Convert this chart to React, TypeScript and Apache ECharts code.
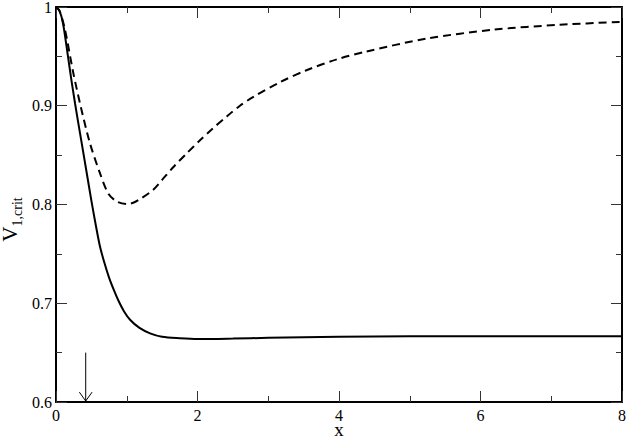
import React, { useEffect, useRef } from "react";
import * as echarts from "echarts";

const solidCurve: [number, number][] = [
  [0, 1], [0.05, 0.996], [0.1, 0.983], [0.165, 0.952], [0.22, 0.925], [0.27, 0.902],
  [0.34, 0.872], [0.42, 0.838], [0.5, 0.804], [0.56, 0.78], [0.62, 0.758],
  [0.68, 0.742], [0.75, 0.726], [0.82, 0.713], [0.88, 0.703], [0.96, 0.692],
  [1.05, 0.683], [1.18, 0.675], [1.33, 0.6695], [1.5, 0.666], [1.75, 0.6645],
  [2.0, 0.6637], [2.5, 0.6642], [3, 0.665], [4, 0.666], [5, 0.6665], [6, 0.6666], [8, 0.6667],
];

const dashedCurve: [number, number][] = [
  [0, 1], [0.05, 0.996], [0.127, 0.977], [0.245, 0.933], [0.36, 0.896], [0.48, 0.862],
  [0.62, 0.832], [0.74, 0.811], [0.86, 0.803], [1.01, 0.8005], [1.1, 0.802],
  [1.2, 0.806], [1.375, 0.815], [1.5, 0.825], [1.66, 0.838], [1.85, 0.852],
  [2.035, 0.865], [2.2, 0.876], [2.41, 0.889], [2.6, 0.9], [2.79, 0.909],
  [3.17, 0.924], [3.54, 0.936], [3.97, 0.947], [4.39, 0.955], [5.24, 0.968],
  [6.18, 0.977], [7.12, 0.982], [8, 0.985],
];

const arrowShaft: [number, number][] = [[0.42, 0.65], [0.42, 0.601]];
const arrowHead: [number, number][] = [[0.33, 0.61], [0.42, 0.601], [0.51, 0.61]];

const xTicks = [0, 2, 4, 6, 8];
const yTicks = [0.6, 0.7, 0.8, 0.9, 1];

const FONT = "Liberation Serif";

export default function App() {
  const ref = useRef<HTMLDivElement>(null);
  useEffect(() => {
    if (!ref.current) return;
    const chart = echarts.init(ref.current, undefined, { renderer: "svg" });
    const axisCommon = {
      type: "value" as const,
      axisLine: { show: true, onZero: false, lineStyle: { color: "#000", width: 2 } },
      axisTick: { show: true, inside: true, length: 11, lineStyle: { color: "#333", width: 1 } },
      minorTick: { show: true, splitNumber: 2, length: 6, lineStyle: { color: "#333", width: 1 } },
      splitLine: { show: false },
      minorSplitLine: { show: false },
    };
    chart.setOption({
      animation: false,
      grid: { left: 56, right: 4, top: 7, bottom: 34, containLabel: false, outerBoundsMode: "none" },
      xAxis: [
        {
          ...axisCommon,
          position: "bottom",
          min: xTicks[0],
          max: xTicks[xTicks.length - 1],
          interval: 2,
          axisLabel: { color: "#000", fontFamily: FONT, fontSize: 16, margin: 5 },
          name: "x",
          nameLocation: "middle",
          nameGap: 21,
          nameMoveOverlap: false,
          nameTextStyle: { color: "#000", fontFamily: FONT, fontSize: 19, lineHeight: 12 },
        },
        {
          ...axisCommon,
          position: "top",
          min: xTicks[0],
          max: xTicks[xTicks.length - 1],
          interval: 2,
          axisLabel: { show: false },
        },
      ],
      yAxis: [
        {
          ...axisCommon,
          position: "left",
          min: yTicks[0],
          max: yTicks[yTicks.length - 1],
          interval: 0.1,
          axisLabel: { color: "#000", fontFamily: FONT, fontSize: 16, margin: 4 },
          name: "{v|V}{s|1,crit}",
          nameLocation: "middle",
          nameRotate: 90,
          nameGap: 36,
          nameMoveOverlap: false,
          nameTextStyle: {
            color: "#000",
            fontFamily: FONT,
            padding: [0, 30, 0, 0],
            rich: {
              v: { fontSize: 21, fontFamily: FONT, color: "#000", verticalAlign: "bottom", lineHeight: 24 },
              s: { fontSize: 14, fontFamily: FONT, color: "#000", verticalAlign: "bottom", lineHeight: 12, padding: [0, 0, -4, 0] },
            },
          },
        },
        {
          ...axisCommon,
          position: "right",
          min: yTicks[0],
          max: yTicks[yTicks.length - 1],
          interval: 0.1,
          axisLabel: { show: false },
        },
      ],
      series: [
        {
          type: "line",
          data: solidCurve,
          smooth: 0.3,
          showSymbol: false,
          lineStyle: { color: "#000", width: 2 },
          z: 3,
        },
        {
          type: "line",
          data: dashedCurve,
          smooth: 0.3,
          showSymbol: false,
          lineStyle: { color: "#000", width: 2, type: [8, 5] },
          z: 3,
        },
        {
          type: "line",
          data: arrowShaft,
          showSymbol: false,
          lineStyle: { color: "#000", width: 1 },
        },
        {
          type: "line",
          data: arrowHead,
          showSymbol: false,
          lineStyle: { color: "#000", width: 1 },
        },
      ],
    });
    return () => chart.dispose();
  }, []);
  return <div ref={ref} style={{ width: 626, height: 436, position: "absolute", left: 0, top: 0 }} />;
}
